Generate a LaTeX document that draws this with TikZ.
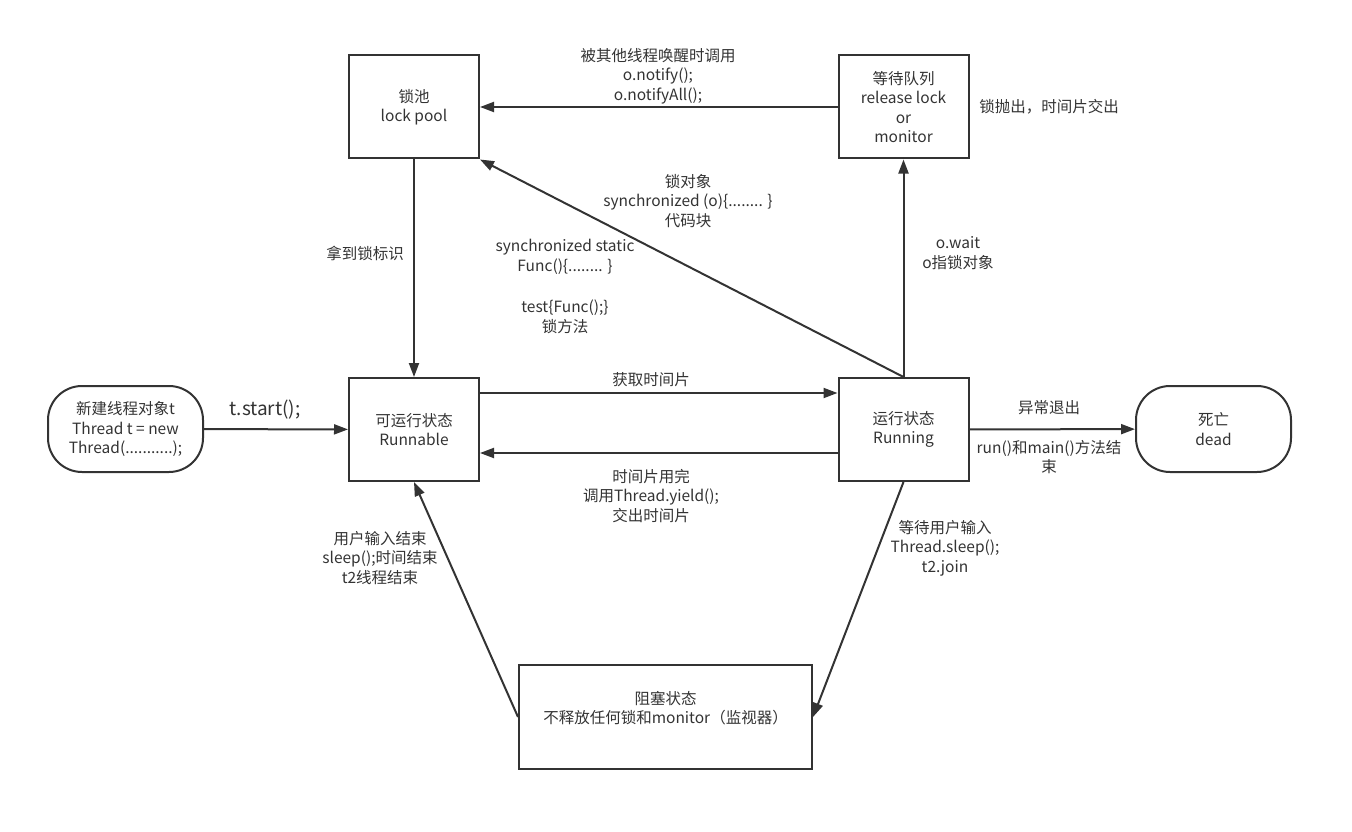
\documentclass[tikz,border=0pt]{standalone}
\usepackage{fontspec}
\setmainfont{Noto Sans CJK SC}
\usetikzlibrary{arrows.meta}
\definecolor{ink}{HTML}{333333}

\begin{document}
\begin{tikzpicture}[x=1pt,y=-1pt,
  every node/.style={font=\fontsize{15.5}{19.5}\selectfont, text=ink, align=center},
  state/.style={draw=ink, line width=2pt, minimum width=130pt, minimum height=103pt},
  endstate/.style={state, rounded corners=34pt, minimum width=155pt, minimum height=86pt},
  arr/.style={draw=ink, line width=2pt, -{Triangle[length=14pt,width=10pt]}}]
\useasboundingbox (0,0) rectangle (1352,832);

% states
\node[state] (pool) at (414,107) {锁池\\lock pool};
\node[state] (waitq) at (903.5,107) {等待队列\\release lock\\or\\monitor};
\node[endstate] (new) at (125.5,429) {新建线程对象t\\Thread t = new\\Thread(...........);};
\node[state] (runnable) at (414,429.5) {可运行状态\\Runnable};
\node[state] (running) at (903.5,429.5) {运行状态\\Running};
\node[endstate] (dead) at (1213.5,429) {死亡\\dead};
\node[state, minimum width=293pt, minimum height=104pt] (blocked) at (665.5,717)
  {阻塞状态\\不释放任何锁和monitor（监视器）\\[0pt]};

% transitions
\draw[arr] (waitq) -- (pool);
\draw[arr] (running.north) -- (pool.south east);
\draw[arr] (running.north) -- (waitq.south);
\draw[arr] (pool) -- (runnable);
\draw[arr] (new) -- (runnable);
\draw[arr] ([yshift=36.5pt]runnable.east) -- ([yshift=36.5pt]running.west);
\draw[arr] ([yshift=-23.5pt]running.west) -- ([yshift=-23.5pt]runnable.east);
\draw[arr] (running) -- (dead);
\draw[arr] (running.south) -- (blocked.east);
\draw[arr] (blocked.west) -- (runnable.south);

% labels
\node (notify) at (658,76) {被其他线程唤醒时调用\\o.notify();\\o.notifyAll();};
\node (release) at (1049,107) {锁抛出，时间片交出};
\node (syncobj) at (688,201) {锁对象\\synchronized (o)\{........ \}\\代码块};
\node (syncfunc) at (565,257) {synchronized static\\Func()\{........ \}};
\node (syncmeth) at (565,317) {test\{Func();\}\\锁方法};
\node (getlock) at (365,253) {拿到锁标识};
\node (owait) at (958,253) {o.wait\\o指锁对象};
\node[font=\fontsize{19}{22}\selectfont] (start) at (265,410) {t.start();};
\node (getslice) at (651,380) {获取时间片};
\node (yield) at (651,496) {时间片用完\\调用Thread.yield();\\交出时间片};
\node (exc) at (1049,408) {异常退出};
\node (finish) at (1049,457) {run()和main()方法结\\束};
\node (sleep) at (945,548) {等待用户输入\\Thread.sleep();\\t2.join};
\node (wake) at (380,558) {用户输入结束\\sleep();时间结束\\t2线程结束};
\end{tikzpicture}
\end{document}
